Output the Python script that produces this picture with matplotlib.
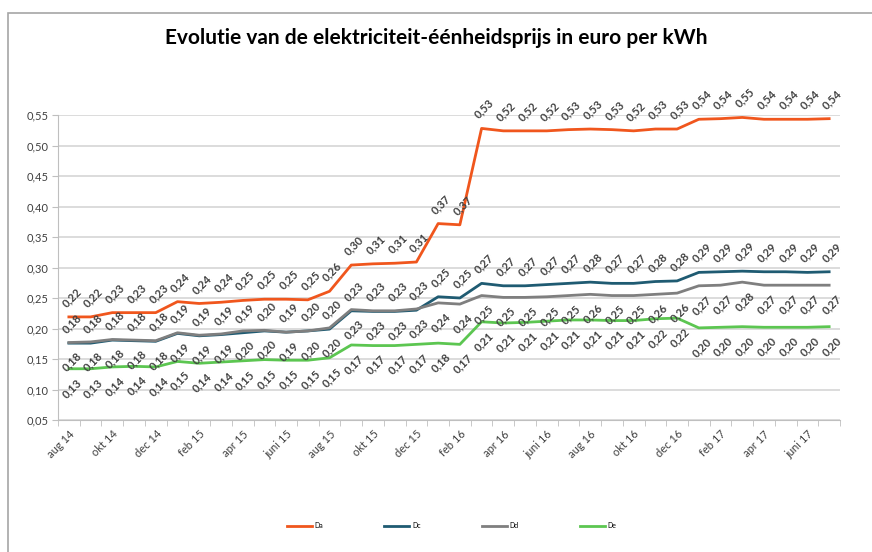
import numpy as np
import matplotlib
matplotlib.use('Agg')
from matplotlib import pyplot as plt
from matplotlib.patches import Rectangle

plt.rcParams['font.family'] = ['Lato', 'DejaVu Sans']

months = ['aug 14', 'sep 14', 'okt 14', 'nov 14', 'dec 14', 'jan 15', 'feb 15', 'mrt 15',
          'apr 15', 'mei 15', 'juni 15', 'juli 15', 'aug 15', 'sep 15', 'okt 15', 'nov 15',
          'dec 15', 'jan 16', 'feb 16', 'mrt 16', 'apr 16', 'mei 16', 'juni 16', 'juli 16',
          'aug 16', 'sep 16', 'okt 16', 'nov 16', 'dec 16', 'jan 17', 'feb 17', 'mrt 17',
          'apr 17', 'mei 17', 'juni 17', 'juli 17']

da = [0.219, 0.219, 0.226, 0.226, 0.226, 0.244, 0.241, 0.243, 0.246, 0.248, 0.248, 0.247,
      0.261, 0.304, 0.306, 0.307, 0.309, 0.372, 0.370, 0.528, 0.524, 0.524, 0.524, 0.526,
      0.527, 0.526, 0.524, 0.527, 0.527, 0.543, 0.544, 0.546, 0.543, 0.543, 0.543, 0.544]
dc = [0.176, 0.176, 0.181, 0.180, 0.179, 0.192, 0.188, 0.190, 0.193, 0.196, 0.194, 0.196,
      0.199, 0.229, 0.228, 0.228, 0.230, 0.252, 0.250, 0.274, 0.270, 0.270, 0.272, 0.274,
      0.276, 0.274, 0.274, 0.277, 0.278, 0.292, 0.293, 0.294, 0.293, 0.293, 0.292, 0.293]
dd = [0.177, 0.178, 0.182, 0.181, 0.180, 0.193, 0.189, 0.191, 0.196, 0.197, 0.194, 0.196,
      0.201, 0.231, 0.229, 0.229, 0.232, 0.242, 0.240, 0.254, 0.251, 0.251, 0.252, 0.254,
      0.256, 0.254, 0.254, 0.256, 0.258, 0.270, 0.271, 0.276, 0.271, 0.271, 0.271, 0.271]
de = [0.134, 0.134, 0.137, 0.138, 0.137, 0.146, 0.143, 0.145, 0.147, 0.149, 0.148, 0.148,
      0.152, 0.173, 0.172, 0.172, 0.174, 0.176, 0.174, 0.211, 0.209, 0.210, 0.212, 0.214,
      0.214, 0.213, 0.213, 0.216, 0.217, 0.201, 0.202, 0.203, 0.202, 0.202, 0.202, 0.203]

series = [('Da', da, '#F0561D', 1), ('Dc', dc, '#1F5B72', 1),
          ('Dd', dd, '#7F7F7F', -1), ('De', de, '#5CC651', -1)]

fig = plt.figure(figsize=(8.72, 5.52), dpi=100)
ax = fig.add_axes([58 / 872, 1 - 420 / 552, 782 / 872, 305 / 552])

x = np.arange(len(months))
for name, vals, color, side in series:
    ax.plot(x, vals, color=color, lw=2.0, label=name, solid_joinstyle='round')
    for xi, v in zip(x, vals):
        lbl = ('%.2f' % v).replace('.', ',')
        ax.annotate(lbl, (xi, v), xytext=(2, 14 * side), textcoords='offset points',
                    rotation=45, ha='center', va='center', fontsize=8,
                    fontweight='bold', color='#404040')

ax.set_xlim(-0.5, len(months) - 0.5)
ax.set_ylim(0.05, 0.55)
yt = np.arange(0.05, 0.551, 0.05)
ax.set_yticks(yt)
ax.set_yticklabels([('%.2f' % t).replace('.', ',') for t in yt], fontsize=8, color='#404040')
ax.set_xticks(x[::2])
ax.set_xticklabels(months[::2], rotation=45, ha='right', rotation_mode='anchor',
                   fontsize=8, color='#404040')
ax.set_xticks(np.arange(-0.5, len(months), 1), minor=True)
ax.tick_params(axis='x', which='major', length=0, pad=6)
ax.tick_params(axis='x', which='minor', length=4, color='#BFBFBF')
ax.tick_params(axis='y', length=4, color='#BFBFBF', pad=3)
ax.grid(axis='y', color='#D9D9D9', lw=1.3)
ax.set_axisbelow(True)
for s in ['top', 'right']:
    ax.spines[s].set_visible(False)
for s in ['left', 'bottom']:
    ax.spines[s].set_color('#BFBFBF')

fig.text(0.5, 1 - 38 / 552, 'Evolutie van de elektriciteit-éénheidsprijs in euro per kWh',
         ha='center', va='center', fontsize=15, fontweight='bold', color='#000000')

fig.legend(loc='center', bbox_to_anchor=(0.518, 1 - 526 / 552), ncol=4, frameon=False,
           fontsize=5, handlelength=3.6, columnspacing=8.8, handletextpad=0.4)

fig.patches.append(Rectangle((8 / 872, -0.1), 2, 1 - 13 / 552 + 0.1, transform=fig.transFigure,
                             fill=False, edgecolor='#A6A6A6', lw=1.2))

plt.savefig('out.png', dpi=100)
